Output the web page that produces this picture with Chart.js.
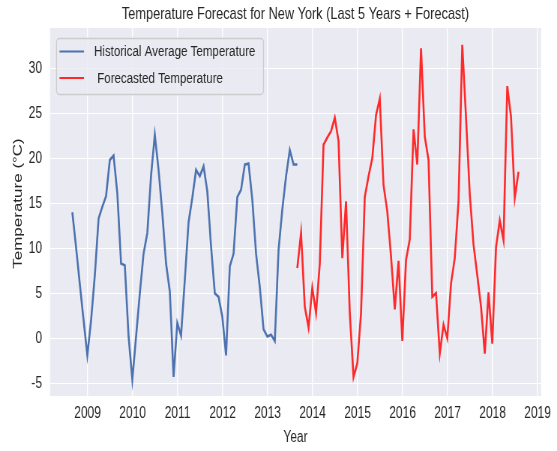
<!DOCTYPE html>
<html>
<head>
<meta charset="utf-8">
<script src="https://cdn.jsdelivr.net/npm/chart.js@4.4.1/dist/chart.umd.min.js"></script>
<style>
  html, body { margin: 0; padding: 0; background: #ffffff; }
  #wrap { width: 557px; height: 451px; overflow: hidden; }
</style>
</head>
<body>
<div id="wrap">
  <!-- drawn wide and squeezed to 557px, like the reference picture -->
  <canvas id="temp_chart" width="743" height="451" style="width:557px;height:451px;display:block"></canvas>
</div>
<script>
// monthly values
const hist_label = "Historical Average Temperature"
const hist_start = 2008.66   // first historical month (decimal year)
const hist_temps = [
  14.0, 10.1, 6.0, 2.0, -1.9, 2.0, 7.0, 13.3, 14.6, 15.8, 19.8, 20.3,
  16.1, 8.3, 8.1, 0.2, -4.6, 0.2, 5.0, 9.4, 11.7, 18.1, 22.6, 18.7,
  13.9, 8.3, 5.2, -4.3, 1.7, 0.3, 6.5, 12.9, 15.6, 18.7, 18.0, 19.1,
  16.3, 10.2, 5.0, 4.6, 2.4, -1.9, 8.0, 9.4, 15.7, 16.5, 19.3, 19.4,
  15.4, 9.4, 5.7, 1.0, 0.2, 0.4, -0.3, 9.8, 14.3, 18.0, 20.9, 19.3,
  19.3
]

const fc_label = " Forecasted Temperature"
const fc_start = 2013.66
const fc_temps = [
  7.8, 11.7, 3.5, 1.2, 5.6, 2.8, 8.3, 21.5, 22.3, 23.0, 24.5, 21.9,
  8.9, 15.2, 2.8, -4.3, -2.8, 2.8, 15.7, 18.0, 20.0, 24.8, 26.6, 17.0,
  14.1, 9.1, 3.2, 8.6, -0.3, 8.7, 11.0, 23.2, 19.3, 32.2, 22.4, 19.8,
  4.6, 5.0, -1.7, 1.5, 0.0, 6.1, 8.9, 15.2, 32.6, 24.5, 16.0, 10.4,
  7.0, 3.5, -1.7, 5.1, -0.6, 10.1, 13.1, 10.9, 28.0, 24.6, 15.6, 18.5
]

const year_ticks = [2009, 2010, 2011, 2012, 2013, 2014, 2015, 2016, 2017, 2018, 2019]
const temp_ticks = [-5, 0, 5, 10, 15, 20, 25, 30]

const y_title = 'Temperature (°C)'
const font_fam = "'Liberation Sans', Arial, Helvetica, sans-serif"
const text_col = '#262626'
const sx = 557 / 743   // horizontal squeeze of the canvas

// turn a monthly series into {x, y} points
function to_points(start, values) {
  return values.map((v, i) => ({ x: start + i / 12, y: v }))
}

// grey plot background like seaborn darkgrid
const plot_bg = {
  id: 'plot_bg',
  beforeDraw(chart) {
    const a = chart.chartArea
    const ctx = chart.ctx
    ctx.save()
    ctx.fillStyle = '#EAEAF2'
    ctx.fillRect(a.left, a.top, a.right - a.left, a.bottom - a.top)
    ctx.restore()
  }
}

// y axis label, placed a little above the middle like the original
const y_label = {
  id: 'y_label',
  afterDraw(chart) {
    const ctx = chart.ctx
    ctx.save()
    ctx.translate(18 / sx, 203.5)
    ctx.rotate(-Math.PI / 2)
    ctx.fillStyle = text_col
    ctx.font = '17px ' + font_fam
    ctx.textAlign = 'center'
    ctx.textBaseline = 'middle'
    ctx.fillText(y_title, 0, 0)
    ctx.restore()
  }
}

// legend box in the upper left of the plot
const inner_legend = {
  id: 'inner_legend',
  afterDraw(chart) {
    const a = chart.chartArea
    const ctx = chart.ctx
    const x0 = a.left + 6.5 / sx, y0 = a.top + 10.5, w = 207 / sx, h = 56
    ctx.save()
    ctx.beginPath()
    ctx.roundRect(x0, y0, w, h, 4)
    ctx.fillStyle = 'rgba(234,234,242,0.8)'
    ctx.fill()
    ctx.strokeStyle = '#CCCCCC'
    ctx.lineWidth = 1.3
    ctx.stroke()
    chart.data.datasets.forEach((ds, i) => {
      const y = y0 + 13 + i * 26.5
      ctx.beginPath()
      ctx.moveTo(x0 + 3 / sx, y)
      ctx.lineTo(x0 + 27.5 / sx, y)
      ctx.strokeStyle = ds.borderColor
      ctx.lineWidth = 2
      ctx.stroke()
      ctx.fillStyle = text_col
      ctx.font = '15.4px ' + font_fam
      ctx.textBaseline = 'middle'
      ctx.fillText(ds.label, x0 + 37.5 / sx, y + 0.5)
    })
    ctx.restore()
  }
}

const temp_config = {
  type: 'line',
  data: {
    datasets: [
      {
        label: hist_label,
        data: to_points(hist_start, hist_temps),
        borderColor: '#4C72B0',
        borderWidth: 2.6,
        pointRadius: 0,
        tension: 0
      },
      {
        label: fc_label,
        data: to_points(fc_start, fc_temps),
        borderColor: 'rgba(255, 20, 20, 0.9)',
        borderWidth: 2.6,
        pointRadius: 0,
        tension: 0
      }
    ]
  },
  options: {
    responsive: false,
    animation: false,
    devicePixelRatio: 1,
    layout: { padding: { left: 0, right: 10 / sx, top: 0, bottom: 0 } },
    plugins: {
      legend: { display: false },
      tooltip: { enabled: false },
      title: {
        display: true,
        text: 'Temperature Forecast for New York (Last 5 Years + Forecast)',
        fullSize: false,
        color: text_col,
        font: { family: font_fam, size: 17, weight: 'normal' },
        padding: { top: 4.6, bottom: 3 }
      }
    },
    scales: {
      x: {
        type: 'linear',
        min: 2008.164,
        max: 2019.077,
        afterBuildTicks: (scale) => { scale.ticks = year_ticks.map(v => ({ value: v })) },
        afterFit: (scale) => { scale.height = 55 },
        grid: { color: '#ffffff', lineWidth: 1.4, drawTicks: false },
        border: { display: false },
        ticks: {
          color: text_col,
          font: { family: font_fam, size: 16 },
          padding: 8,
          maxRotation: 0,
          callback: (v) => String(v)
        },
        title: {
          display: true,
          text: 'Year',
          color: text_col,
          font: { family: font_fam, size: 16 },
          padding: { top: 0, bottom: 4 }
        }
      },
      y: {
        min: -6.41,
        max: 34.46,
        afterBuildTicks: (scale) => { scale.ticks = temp_ticks.map(v => ({ value: v })) },
        afterFit: (scale) => { scale.width = 50 / sx },
        grid: { color: '#ffffff', lineWidth: 1, drawTicks: false },
        border: { display: false },
        ticks: {
          color: text_col,
          font: { family: font_fam, size: 16 },
          padding: 8 / sx
        }
      }
    }
  },
  plugins: [plot_bg, inner_legend, y_label]
}

const myTempChart = new Chart(document.getElementById('temp_chart'), temp_config)
</script>
</body>
</html>
